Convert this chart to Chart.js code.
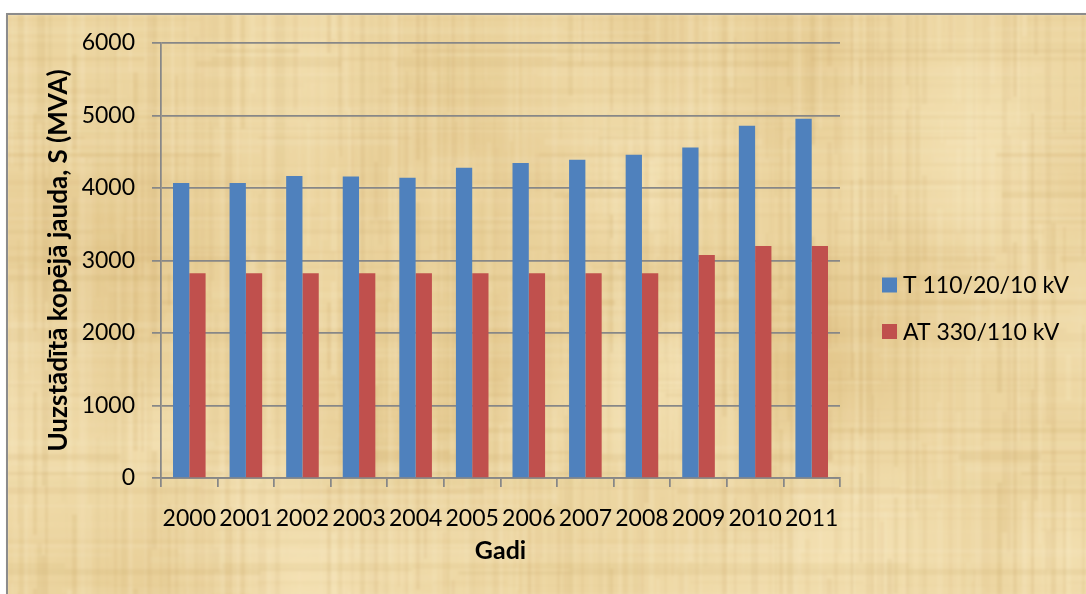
<!DOCTYPE html>
<html>
<head>
<meta charset="utf-8">
<script src="https://cdn.jsdelivr.net/npm/chart.js@4.4.1/dist/chart.umd.min.js"></script>
<style>
  html, body { margin: 0; padding: 0; background: #ffffff; }
  canvas { display: block; }
</style>
</head>
<body>
<canvas id="chart" width="1086" height="594"></canvas>
<script>
// Installed transformer capacity by year, MVA
const years = ['2000', '2001', '2002', '2003', '2004', '2005', '2006', '2007', '2008', '2009', '2010', '2011'];
const transformers110 = [4070, 4070, 4165, 4160, 4140, 4280, 4345, 4390, 4460, 4560, 4860, 4955];
const autotransformers330 = [2825, 2825, 2825, 2825, 2825, 2825, 2825, 2825, 2825, 3075, 3200, 3200];
const seriesNames = ['T 110/20/10 kV', 'AT 330/110 kV'];
const yAxisMax = 6000;
const yAxisStep = 1000;

const FONT = 'Lato, "Open Sans", sans-serif';
const AXIS_GREY = '#878787';

// Deterministic hash used for the papyrus fibres
function fibre(n) {
  const s = Math.sin(n * 12.9898 + 78.233) * 43758.5453;
  return s - Math.floor(s);
}

function makePapyrus(w, h) {
  const c = document.createElement('canvas');
  c.width = w; c.height = h;
  const g = c.getContext('2d');
  g.fillStyle = '#ecd5a0';
  g.fillRect(0, 0, w, h);
  // soft blotches
  for (let i = 0; i < 46; i++) {
    const x = fibre(i * 3 + 1) * w, y = fibre(i * 3 + 2) * h, r = 50 + fibre(i * 3 + 3) * 130;
    const dark = fibre(i * 7 + 5) > 0.55;
    const col = dark ? '214,178,110' : '248,232,190';
    const grad = g.createRadialGradient(x, y, 0, x, y, r);
    grad.addColorStop(0, `rgba(${col},${dark ? 0.25 : 0.35})`);
    grad.addColorStop(1, `rgba(${col},0)`);
    g.fillStyle = grad;
    g.fillRect(x - r, y - r, 2 * r, 2 * r);
  }
  // vertical fibres
  let x = 0, i = 0;
  while (x < w) {
    const sw = 1 + Math.floor(fibre(i + 100) * 5);
    const t = fibre(i + 200);
    g.fillStyle = t > 0.5 ? `rgba(250,238,205,${(t - 0.5) * 0.45})` : `rgba(196,160,96,${(0.5 - t) * 0.38})`;
    let y = 0, j = 0;
    while (y < h) {
      const sl = 20 + fibre(i * 31 + j * 3) * 140;
      if (fibre(i * 17 + j * 5) > 0.35) g.fillRect(x, y, sw, sl);
      y += sl; j++;
    }
    x += sw; i++;
  }
  // horizontal fibres
  let y = 0; i = 0;
  while (y < h) {
    const sh = 1 + Math.floor(fibre(i + 900) * 6);
    const t = fibre(i + 1300);
    g.fillStyle = t > 0.5 ? `rgba(250,238,205,${(t - 0.5) * 0.35})` : `rgba(200,165,100,${(0.5 - t) * 0.32})`;
    let xx = 0, j = 0;
    while (xx < w) {
      const sl = 30 + fibre(i * 23 + j * 7 + 5) * 180;
      if (fibre(i * 13 + j * 11 + 3) > 0.4) g.fillRect(xx, y, sl, sh);
      xx += sl; j++;
    }
    y += sh; i++;
  }
  return c;
}

// Page background: papyrus sheet with a grey frame on the top and left
const papyrusBackground = {
  id: 'papyrusBackground',
  beforeDraw(chart) {
    const { ctx, width, height } = chart;
    ctx.save();
    ctx.fillStyle = '#ffffff';
    ctx.fillRect(0, 0, width, height);
    const sheet = makePapyrus(width, height);
    ctx.filter = 'blur(1.2px)';
    ctx.drawImage(sheet, 7, 14);
    ctx.filter = 'none';
    ctx.strokeStyle = '#8c8c8c';
    ctx.lineWidth = 2;
    ctx.beginPath();
    ctx.moveTo(7, height);
    ctx.lineTo(7, 14);
    ctx.lineTo(width, 14);
    ctx.stroke();
    ctx.restore();
  }
};

// Series key to the right of the plot
const sideLegend = {
  id: 'sideLegend',
  afterDraw(chart) {
    const { ctx } = chart;
    ctx.save();
    ctx.font = `23px ${FONT}`;
    ctx.textBaseline = 'middle';
    ctx.textAlign = 'left';
    chart.data.datasets.forEach((ds, i) => {
      const cy = 285 + i * 46.5;
      ctx.fillStyle = ds.backgroundColor;
      ctx.fillRect(882, cy - 7.5, 15, 15);
      ctx.fillStyle = '#000000';
      ctx.fillText(ds.label, 903, cy + 1);
    });
    ctx.restore();
  }
};

new Chart(document.getElementById('chart'), {
  type: 'bar',
  data: {
    labels: years,
    datasets: [
      { label: seriesNames[0], data: transformers110, backgroundColor: '#4f81bd', borderWidth: 0 },
      { label: seriesNames[1], data: autotransformers330, backgroundColor: '#c0504d', borderWidth: 0 }
    ]
  },
  options: {
    responsive: false,
    animation: false,
    devicePixelRatio: 1,
    layout: { padding: { left: 20, top: 43, right: 246, bottom: 0 } },
    datasets: { bar: { categoryPercentage: 0.576, barPercentage: 1 } },
    plugins: {
      legend: { display: false },
      tooltip: { enabled: false }
    },
    scales: {
      x: {
        grid: { display: true, drawOnChartArea: false, drawTicks: true, tickLength: 9, offset: true, color: AXIS_GREY, lineWidth: 1.75 },
        border: { display: true, color: AXIS_GREY, width: 1.75 },
        ticks: { color: '#000000', font: { family: FONT, size: 23 }, padding: 18, maxRotation: 0, minRotation: 0, autoSkip: false },
        title: { display: true, text: 'Gadi', color: '#000000', font: { family: FONT, size: 25, weight: 'bold' }, padding: { top: 0, bottom: 28 } },
        afterFit(scale) { scale.height = 116; }
      },
      y: {
        min: 0,
        max: yAxisMax,
        grid: { color: AXIS_GREY, lineWidth: 1.75, tickLength: 9, drawTicks: true },
        border: { display: true, color: AXIS_GREY, width: 1.75 },
        ticks: {
          stepSize: yAxisStep,
          color: '#000000',
          font: { family: FONT, size: 23 },
          padding: 17,
          callback: (value) => String(value)
        },
        title: { display: true, text: 'Uuzstādītā kopējā jauda, S (MVA)', color: '#000000', font: { family: FONT, size: 26, weight: 'bold' }, padding: { top: 23, bottom: 0 } },
        afterFit(scale) { scale.width = 141; }
      }
    }
  },
  plugins: [papyrusBackground, sideLegend]
});
</script>
</body>
</html>
